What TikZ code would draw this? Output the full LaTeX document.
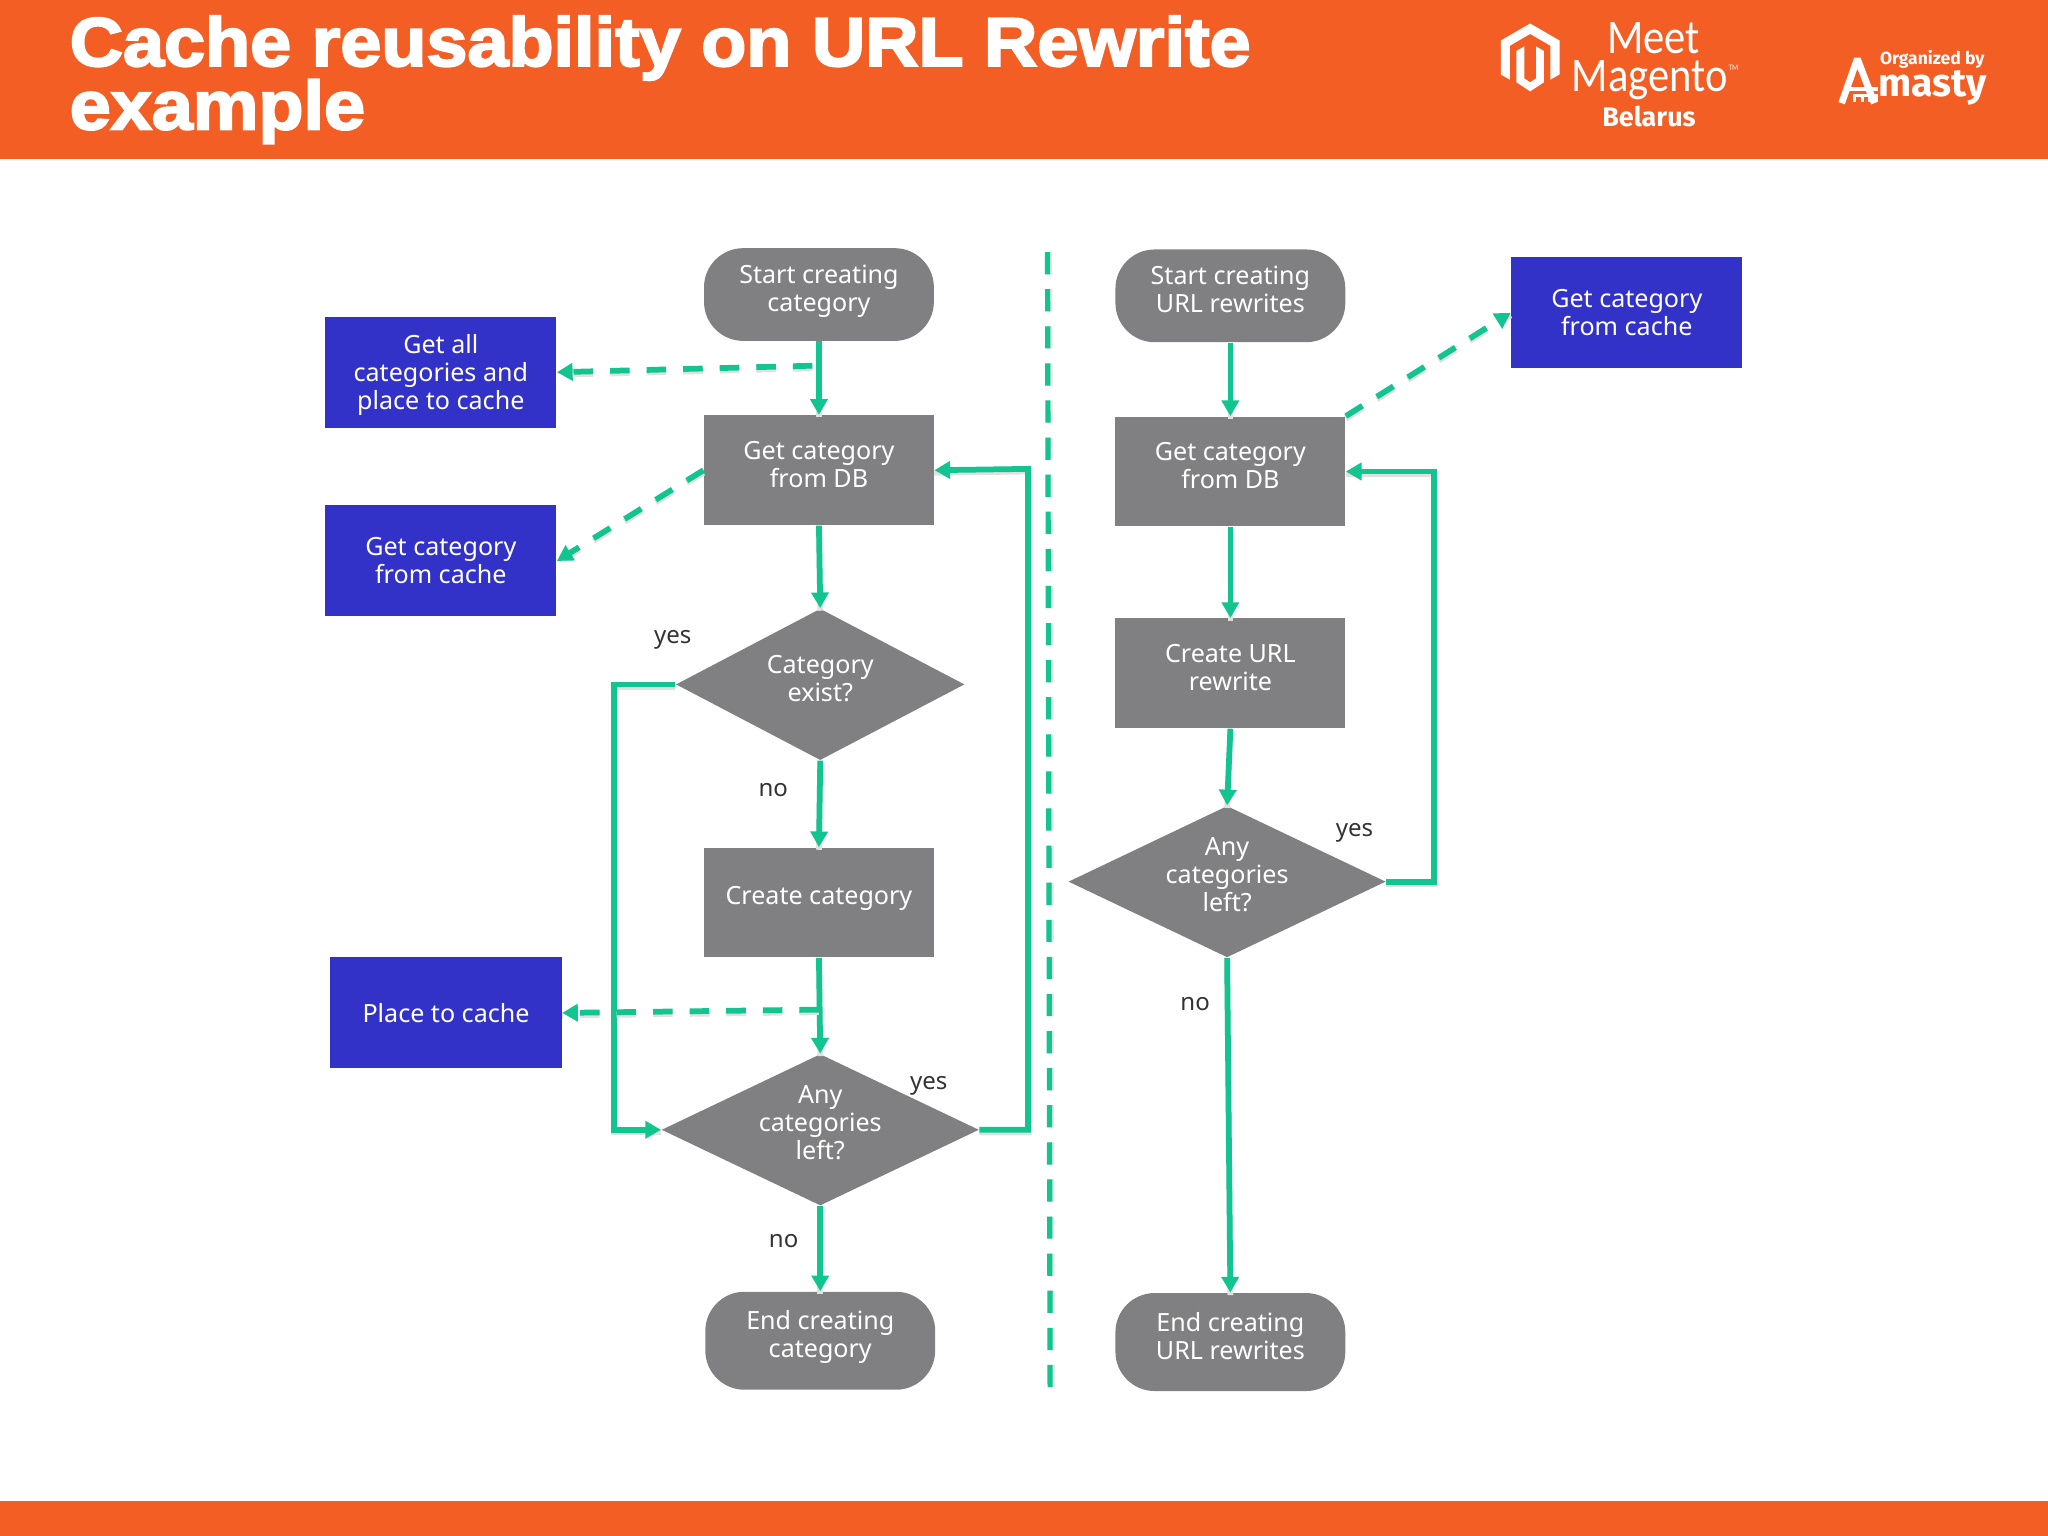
\documentclass[tikz,border=0pt]{standalone}
\usepackage{fontspec}
\usetikzlibrary{shapes.geometric,arrows.meta}
\setmainfont{Noto Sans}
\newfontfamily\titlefont[FakeBold=3,FakeStretch=1.07]{Liberation Sans Bold}
\newfontfamily\magfont[FakeStretch=0.88]{Carlito}
\newfontfamily\amfont{Fira Sans}
\definecolor{hdr}{HTML}{F25E24}
\definecolor{shapegray}{HTML}{808083}
\definecolor{cacheblue}{HTML}{3232C8}
\definecolor{flow}{HTML}{12C48F}
\definecolor{labeltext}{HTML}{333333}
\tikzset{
  x=0.5pt,y=-0.5pt,
  basebox/.style={align=center,text=white,inner sep=0pt,font=\fontsize{9.6}{10.7}\selectfont},
  oneline/.style={text height=7pt,text depth=5.5pt},
  twolines/.style={text height=16pt,text depth=3pt},
  threelines/.style={text height=27pt,text depth=4.5pt},
  procbox/.style={basebox,fill=shapegray,minimum width=88pt,minimum height=42pt},
  cachebox/.style={basebox,fill=cacheblue,minimum width=88.5pt,minimum height=42.5pt},
  termbox/.style={basebox,fill=shapegray,minimum width=88pt,rounded corners=15pt},
  decide/.style={basebox,fill=shapegray,shape=diamond,aspect=2.1,minimum width=121.5pt,minimum height=58pt},
  decidesmall/.style={decide,minimum width=110.5pt},
  yesno/.style={text=labeltext,inner sep=0pt,font=\fontsize{9.2}{10.5}\selectfont},
  arrowtip/.style={-{Triangle[length=6pt,width=6.5pt]}},
  link/.style={draw=flow,line width=2.2pt,arrowtip,
    preaction={draw=black!12,line width=2.2pt,-,transform canvas={yshift=-1pt}}},
  dashlink/.style={draw=flow,line width=2.2pt,arrowtip,dash pattern=on 7.5pt off 6.5pt,
    preaction={draw=black!12,line width=2.2pt,-,dash pattern=on 7.5pt off 6.5pt,transform canvas={yshift=-1pt}}},
  divider/.style={draw=flow,line width=2pt,dash pattern=on 8.5pt off 5.7pt,
    preaction={draw=black!10,line width=2pt,dash pattern=on 8.5pt off 5.7pt,transform canvas={xshift=0.8pt}}},
  logofill/.style={fill=white,draw=none},
  logostroke/.style={draw=white,line width=2.6pt},
  titletext/.style={anchor=base west,inner sep=0pt,text=white,font=\titlefont\fontsize{26.4}{26.4}\selectfont},
}
\begin{document}
\begin{tikzpicture}
\useasboundingbox (0,0) rectangle (1568,1176);
\fill[white] (0,0) rectangle (1568,1176);
\fill[hdr] (0,0) rectangle (1568,122);
\fill[hdr] (0,1149) rectangle (1568,1176);

% title
\node[titletext] (t1) at (53,50.5) {Cache reusability on URL Rewrite};
\node[titletext] (t2) at (53,99) {example};

% Magento logo
\fill[logofill] (1171.5,18)--(1194,31)--(1194,57)--(1187,61)--(1187,35)--(1171.5,26)--(1156,35)--(1156,61)--(1149,57)--(1149,31)--cycle;
\fill[logofill] (1161,39)--(1167,35.5)--(1167,60)--(1171.5,63)--(1176,60)--(1176,35.5)--(1182,39)--(1182,63)--(1171.5,70)--(1161,63)--cycle;
\node[anchor=base,inner sep=0pt,align=center,text=white,font=\magfont\fontsize{18.5}{14.5}\selectfont] (magento) at (1263,70) {\hspace*{3pt}Meet\\Magento};
\node[anchor=base west,inner sep=0pt,text=white,font=\magfont\fontsize{3.2}{3.2}\selectfont] (tm) at (1323,54) {TM};
\node[anchor=base,inner sep=0pt,text=white,font=\amfont\bfseries\fontsize{10.3}{10.3}\selectfont] (belarus) at (1262.5,97) {Belarus};

% Amasty logo
\draw[logostroke,line join=bevel] (1410,79)--(1422,45)--(1435,79);
\draw[logostroke,line width=1.6pt] (1414,68)--(1438,68);
\draw[logostroke,line width=1.2pt] (1420,78)--(1420,73)--(1437,73)--(1437,78) (1426,73)--(1426,78) (1431,73)--(1431,78);
\node[anchor=base west,inner sep=0pt,text=white,font=\amfont\bfseries\fontsize{6.7}{6.7}\selectfont] (org) at (1439,49.5) {Organized by};
\node[anchor=base west,inner sep=0pt,text=white,font=\amfont\bfseries\fontsize{15}{15}\selectfont] (amasty) at (1438,74) {masty};

% left flow
\node[termbox,twolines,minimum height=35.5pt] (startL) at (627,225.5) {Start creating\\category};
\node[procbox,twolines] (dbL) at (627,360) {Get category\\from DB};
\node[decidesmall,twolines] (existL) at (628,524) {Category\\exist?};
\node[procbox,oneline] (createL) at (627,691) {Create category};
\node[decide,threelines] (leftL) at (628,865) {Any\\categories\\left?};
\node[termbox,twolines,minimum height=37.5pt] (endL) at (628,1026.5) {End creating\\category};

\node[cachebox,text depth=0.5pt] (allcache) at (337.5,285) {Get all\\categories and\\place to cache};
\node[cachebox] (getcacheL) at (337.5,429.5) {Get category\\from cache};
\node[cachebox] (place) at (341.5,775.5) {Place to cache};

% right flow
\node[termbox,twolines,minimum height=35.5pt] (startR) at (942,226.5) {Start creating\\URL rewrites};
\node[procbox,twolines] (dbR) at (942,361) {Get category\\from DB};
\node[procbox,twolines] (createR) at (942,515.5) {Create URL\\rewrite};
\node[decide,threelines] (leftR) at (939.5,675) {Any\\categories\\left?};
\node[termbox,twolines,minimum height=37.5pt] (endR) at (942,1027.5) {End creating\\URL rewrites};
\node[cachebox] (getcacheR) at (1245.5,239.5) {Get category\\from cache};

% labels
\node[yesno] (yes1) at (515,490) {yes};
\node[yesno] (no1) at (592,605) {no};
\node[yesno] (yes2) at (711,831) {yes};
\node[yesno] (no2) at (600,950) {no};
\node[yesno] (yes3) at (1037,638) {yes};
\node[yesno] (no3) at (915,769) {no};

% helper coordinates
\coordinate (c1) at (622,280);
\coordinate (c2) at (627,773);
\coordinate (b1) at (470,524);
\coordinate (b2) at (470,865);
\coordinate (b3) at (787,865);
\coordinate (b4) at (787,359);
\coordinate (b5) at (1098,675);
\coordinate (b6) at (1098,361);
\coordinate (div1) at (802,193);
\coordinate (div2) at (804,1068);

% connectors
\draw[link] (startL.south) -- (dbL.north);
\draw[link] (dbL.south) -- (existL.north);
\draw[link] (existL.south) -- (createL.north);
\draw[link] (createL.south) -- (leftL.north);
\draw[link] (leftL.south) -- (endL.north);
\draw[link,line join=miter] (existL.west) -- (b1) -- (b2) -- (leftL.west);
\draw[link,line join=miter] (leftL.east) -- (b3) -- (b4) -- (dbL.east);
\draw[dashlink] (c1) -- (allcache.east);
\draw[dashlink] (dbL.west) -- (getcacheL.east);
\draw[dashlink] (c2) -- (place.east);

\draw[link] (startR.south) -- (dbR.north);
\draw[link] (dbR.south) -- (createR.north);
\draw[link] (createR.south) -- (leftR.north);
\draw[link] (leftR.south) -- (endR.north);
\draw[link,line join=miter] (leftR.east) -- (b5) -- (b6) -- (dbR.east);
\draw[dashlink] (dbR.north east) -- (getcacheR.west);
\draw[divider] (div1) -- (div2);
\end{tikzpicture}
\end{document}
